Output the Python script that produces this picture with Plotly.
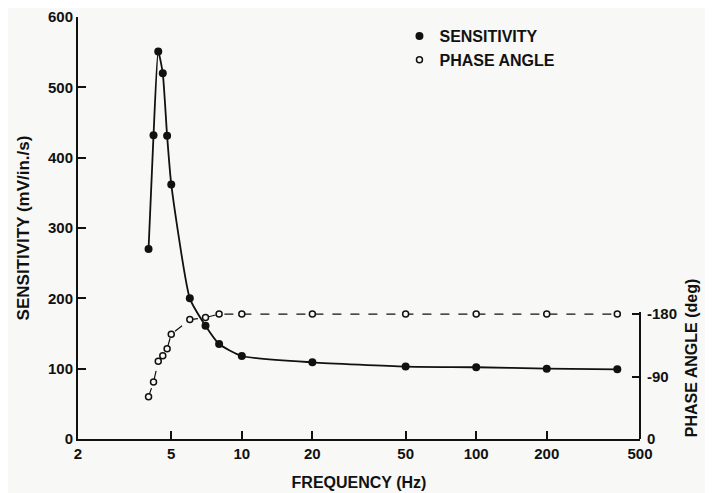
import numpy as np
import plotly.graph_objects as go

# values
freq = [4, 4.2, 4.4, 4.6, 4.8, 5, 6, 7, 8, 10, 20, 50, 100, 200, 400]
sensitivity = [270, 432, 551, 520, 431, 362, 200, 161, 135, 118, 109, 103, 102, 100, 99]
phase = [-61, -82, -112, -120, -130, -151, -172, -175, -180, -180, -180, -180, -180, -180, -180]

x_ticks = [2, 5, 10, 20, 50, 100, 200, 500]
y_ticks = [0, 100, 200, 300, 400, 500, 600]
phase_ticks = [0, -90, -180]
phase_labels = ["0", "-90", "-180"]

ink = "#111111"
bg = "#f8f8f6"
font = "Liberation Sans, Arial, sans-serif"

fig = go.Figure()

fig.add_trace(go.Scatter(
    x=freq, y=sensitivity, mode="lines+markers", showlegend=False,
    line=dict(color=ink, width=1.8, shape="spline", smoothing=0.5),
    marker=dict(color=ink, size=8),
))
fig.add_trace(go.Scatter(
    x=freq, y=phase, yaxis="y2", mode="lines+markers", showlegend=False,
    line=dict(color=ink, width=1.2, dash="dash"),
    marker=dict(color=bg, size=6, line=dict(color=ink, width=1.5)),
))

# legend entries (markers only, like the original key)
fig.add_trace(go.Scatter(x=[None], y=[None], mode="markers", name="SENSITIVITY",
                         marker=dict(color=ink, size=8)))
fig.add_trace(go.Scatter(x=[None], y=[None], mode="markers", name="PHASE ANGLE",
                         marker=dict(color=bg, size=6, line=dict(color=ink, width=1.5))))

# page body adds an 8px offset, so the figure is 8px smaller than the window
fig.update_layout(
    width=705, height=485,
    margin=dict(l=70, r=73, t=9, b=54),
    paper_bgcolor=bg, plot_bgcolor=bg,
    font=dict(family=font, size=15, color=ink, weight="bold"),
    xaxis=dict(
        type="log", range=[np.log10(2), np.log10(500)],
        tickvals=x_ticks, ticktext=[str(v) for v in x_ticks],
        showline=True, linecolor=ink, linewidth=2,
        ticks="inside", ticklen=8, tickwidth=1.5, tickcolor=ink,
        showgrid=False, zeroline=False, automargin=False,
        title=dict(text="FREQUENCY (Hz)", font=dict(size=16), standoff=16),
    ),
    yaxis=dict(
        range=[0, 600], tickvals=y_ticks,
        showline=True, linecolor=ink, linewidth=2,
        ticks="inside", ticklen=8, tickwidth=1.5, tickcolor=ink,
        showgrid=False, zeroline=False, automargin=False,
        title=dict(text="SENSITIVITY (mV/in./s)", font=dict(size=17), standoff=14),
    ),
    yaxis2=dict(
        overlaying="y", side="right", range=[0, -608],
        tickvals=phase_ticks, ticktext=phase_labels, ticklabelstandoff=6,
        showline=False, ticks="inside", ticklen=8, tickwidth=1.5, tickcolor=ink,
        showgrid=False, zeroline=False, automargin=False,
    ),
    legend=dict(
        x=0.572, y=0.995, xanchor="left", yanchor="top",
        bgcolor="rgba(0,0,0,0)", font=dict(size=16), itemwidth=30,
    ),
    showlegend=True,
)

# right axis line only runs up to -180
fig.add_shape(type="line", xref="paper", x0=1, x1=1, yref="y2", y0=0, y1=-183,
              line=dict(color=ink, width=2))

fig.add_annotation(
    text="PHASE ANGLE (deg)", xref="paper", yref="paper",
    x=1.093, y=0.192, xanchor="center", yanchor="middle",
    textangle=-90, showarrow=False,
    font=dict(size=16, family=font, color=ink, weight="bold"),
)

fig.write_html("out.html")
